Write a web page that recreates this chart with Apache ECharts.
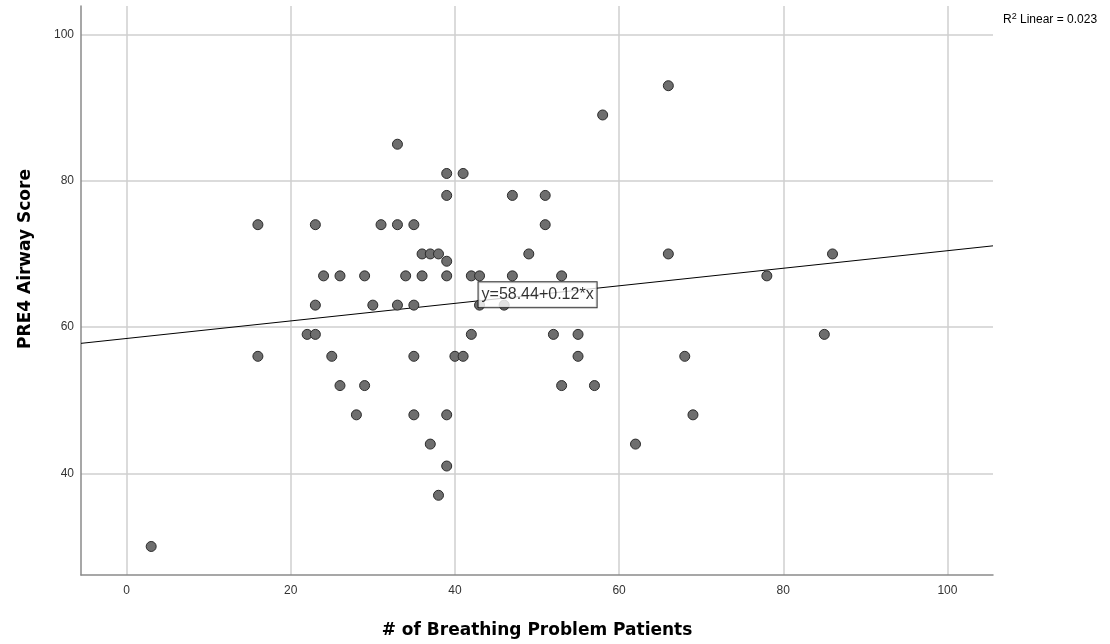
<!DOCTYPE html>
<html>
<head>
<meta charset="utf-8">
<script src="https://cdn.jsdelivr.net/npm/echarts@6/dist/echarts.min.js"></script>
<style>html,body{margin:0;padding:0;background:#fff}#c{width:1110px;height:644px}</style>
</head>
<body>
<div id="c"></div>
<script>
// Data
const patients = [3,16,16,22,23,23,23,24,25,26,26,28,29,29,30,31,33,33,33,34,35,35,35,35,36,36,37,37,38,38,39,39,39,39,39,39,40,41,41,42,42,43,43,46,47,47,49,51,51,52,53,53,55,55,57,58,62,66,66,68,69,78,85,86];
const airwayScore = [30,74,56,59,74,63,59,67,56,67,52,48,67,52,63,74,85,74,63,67,74,63,56,48,70,67,70,44,70,37,81,78,69,67,48,41,56,81,56,67,59,67,63,63,78,67,70,78,74,59,67,52,59,56,52,89,44,93,70,56,48,67,59,70];
const fitIntercept = 58.44;
const fitSlope = 0.12;
const rSquared = '0.023';
const xRange = [-5.55, 105.55];
const yRange = [26.1, 103.9];
const xTitle = '# of Breathing Problem Patients';
const yTitle = 'PRE4 Airway Score';
const fitLabelX = 43;

const points = patients.map((x, i) => [x, airwayScore[i]]);
const fit = x => fitIntercept + fitSlope * x;
const linePts = [[xRange[0], fit(xRange[0])], [xRange[1], fit(xRange[1])]];

const font = '"Liberation Sans", Arial, sans-serif';
const titleFont = '"DejaVu Sans", sans-serif';
const chart = echarts.init(document.getElementById('c'), null, {renderer: 'canvas'});
chart.setOption({
  animation: false,
  backgroundColor: '#fff',
  grid: {left: 81, right: 117, top: 6, bottom: 69},
  xAxis: {
    type: 'value', min: xRange[0], max: xRange[1], minInterval: 20, maxInterval: 20,
    name: xTitle, nameLocation: 'middle', nameGap: 47,
    nameTextStyle: {fontFamily: titleFont, fontSize: 17, fontWeight: 'bold', color: '#000'},
    axisLine: {show: true, onZero: false, lineStyle: {color: '#8a8a8a', width: 1.5}},
    axisTick: {show: false},
    axisLabel: {showMinLabel: false, showMaxLabel: false, fontFamily: font, fontSize: 12, color: '#333', margin: 10},
    splitLine: {show: true, showMinLine: false, showMaxLine: false, lineStyle: {color: '#cfcfcf', width: 1.5}}
  },
  yAxis: {
    type: 'value', min: yRange[0], max: yRange[1], minInterval: 20, maxInterval: 20,
    axisLine: {show: true, onZero: false, lineStyle: {color: '#8a8a8a', width: 1.5}},
    axisTick: {show: false},
    axisLabel: {showMinLabel: false, showMaxLabel: false, fontFamily: font, fontSize: 12, color: '#333', margin: 7},
    splitLine: {show: true, showMinLine: false, showMaxLine: false, lineStyle: {color: '#cfcfcf', width: 1.5}}
  },
  series: [
    {
      type: 'line', data: linePts, symbol: 'none', silent: true, z: 3,
      lineStyle: {color: '#000', width: 1}
    },
    {
      type: 'scatter', data: points, symbol: 'circle', symbolSize: 10, z: 4,
      itemStyle: {color: '#6e6e6e', borderColor: '#2b2b2b', borderWidth: 1, opacity: 1}
    },
    {
      type: 'scatter', data: [[fitLabelX, fit(fitLabelX)]], symbolSize: 0, z: 10, silent: true,
      label: {
        show: true, position: 'right', distance: 0, offset: [-1, -6],
        formatter: 'y=' + fitIntercept + '+' + fitSlope + '*x',
        fontFamily: font, fontSize: 16, color: '#000',
        backgroundColor: '#fff', borderColor: '#000', borderWidth: 1, padding: [5, 3, 4, 3]
      }
    }
  ],
  graphic: [
    {
      type: 'text', left: 1003, top: 12,
      style: {
        text: '{t|R}{s|2}{t| Linear = ' + rSquared + '}',
        rich: {
          t: {fontFamily: font, fontSize: 12, fill: '#000'},
          s: {fontFamily: font, fontSize: 9, fill: '#000', verticalAlign: 'top', padding: [0, 0, 6, 0]}
        }
      }
    },
    {
      type: 'text', x: 26, y: 259, rotation: Math.PI / 2,
      style: {text: yTitle, fontFamily: titleFont, fontSize: 17, fontWeight: 'bold', fill: '#000', align: 'center', verticalAlign: 'middle'}
    }
  ]
});
</script>
</body>
</html>
